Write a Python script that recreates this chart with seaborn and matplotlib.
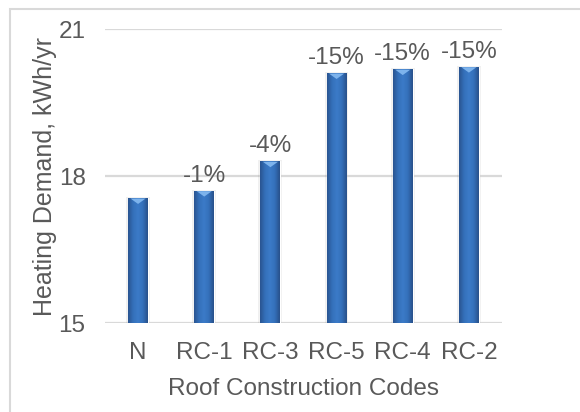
import numpy as np
import pandas as pd
import matplotlib
matplotlib.use("Agg")
import matplotlib.pyplot as plt
from matplotlib.patches import Rectangle, Polygon
from matplotlib.colors import LinearSegmentedColormap
import seaborn as sns

# Heating demand per roof construction code
codes = ["N", "RC-1", "RC-3", "RC-5", "RC-4", "RC-2"]
demand = [17.55, 17.70, 18.30, 20.10, 20.18, 20.23]
change_labels = ["", "-1%", "-4%", "-15%", "-15%", "-15%"]
y_ticks = [15, 18, 21]

df = pd.DataFrame({"code": codes, "demand": demand})

sns.set_theme(style="white")
plt.rcParams["font.family"] = ["Liberation Sans", "DejaVu Sans"]
text_color = "#595959"
grid_color = "#D9D9D9"

fig = plt.figure(figsize=(5.8, 4.12), dpi=100)
ax = fig.add_axes([0.181, 0.216, 0.6845, 0.7136])

sns.barplot(data=df, x="code", y="demand", color="#3A75C0", width=0.3,
            saturation=1, ax=ax, zorder=3)

ax.set_ylim(15, 21)
ax.set_yticks(y_ticks)
ax.yaxis.grid(True, color=grid_color, linewidth=1.6, zorder=0)
ax.xaxis.grid(False)
for s in ax.spines.values():
    s.set_visible(False)
ax.tick_params(axis="both", length=0, labelsize=17.5, colors=text_color)
ax.tick_params(axis="y", pad=14)
ax.tick_params(axis="x", pad=14)
ax.set_xlabel("Roof Construction Codes", fontsize=17.5, color=text_color, labelpad=10)
ax.set_ylabel("Heating Demand, kWh/yr", fontsize=18, color=text_color, labelpad=1)

# shaded cylinder-like fill for each bar
cmap = LinearSegmentedColormap.from_list(
    "bar", ["#2A5490", "#3470BA", "#3C7BC8", "#3470BA", "#28508A"])
grad = np.linspace(0, 1, 64).reshape(1, -1)
for p in ax.patches:
    x0, y0 = p.get_x(), p.get_y()
    w, h = p.get_width(), p.get_height()
    top = y0 + h
    # soft shadow around the bar
    ax.add_patch(Rectangle((x0 - w * 0.1, 15), w * 1.2, top - 15 + 0.02,
                           facecolor="black", alpha=0.06, edgecolor="none",
                           zorder=2))
    im = ax.imshow(grad, cmap=cmap, aspect="auto", zorder=4,
                   extent=[x0, x0 + w, 15, top], interpolation="bicubic")
    im.set_clip_path(p)
    # light bevel at the top of the bar
    tri = Polygon([[x0 + w * 0.12, top - 0.01], [x0 + w * 0.88, top - 0.01],
                   [x0 + w * 0.5, top - 0.12]], closed=True,
                  facecolor="#7DB3EC", edgecolor="none", zorder=5)
    ax.add_patch(tri)

ax.set_xlim(-0.5, len(codes) - 0.5)

for p, lab in zip(ax.patches, change_labels):
    if lab:
        ax.annotate(lab, (p.get_x() + p.get_width() / 2, p.get_y() + p.get_height()),
                    xytext=(0, 3), textcoords="offset points", ha="center",
                    va="bottom", fontsize=17.5, color=text_color, zorder=6)

# chart frame
fig.patches.append(Rectangle((10 / 580, -0.05), 1.0, 1 - 9 / 412 + 0.05,
                             transform=fig.transFigure, fill=False,
                             edgecolor=grid_color, linewidth=1.5))

fig.savefig("out.png", dpi=100)
